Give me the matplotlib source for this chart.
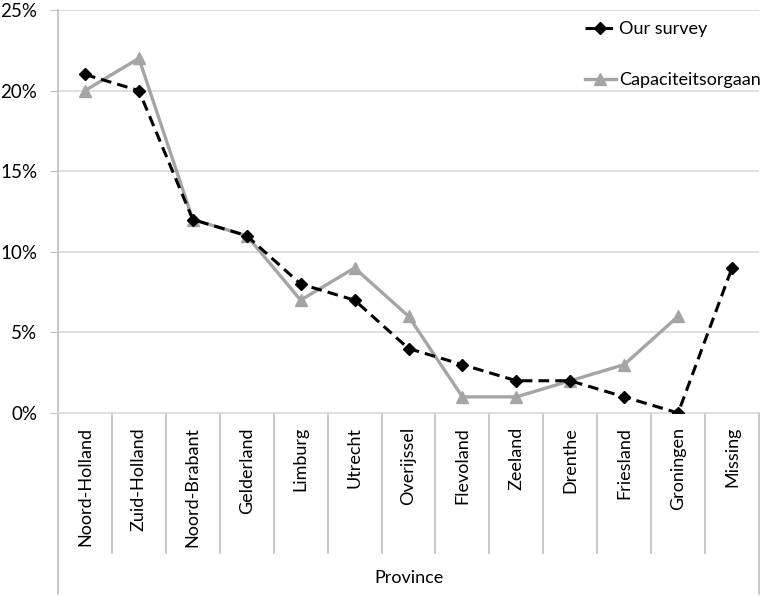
import matplotlib
matplotlib.use("Agg")
import matplotlib.pyplot as plt
from matplotlib.ticker import PercentFormatter

plt.rcParams['font.family'] = ['Lato', 'DejaVu Sans']

# data
provinces = ['Noord-Holland', 'Zuid-Holland', 'Noord-Brabant', 'Gelderland', 'Limburg',
             'Utrecht', 'Overijssel', 'Flevoland', 'Zeeland', 'Drenthe', 'Friesland',
             'Groningen', 'Missing']
our_survey = [21, 20, 12, 11, 8, 7, 4, 3, 2, 2, 1, 0, 9]
capaciteitsorgaan = [20, 22, 12, 11, 7, 9, 6, 1, 1, 2, 3, 6]
y_ticks = [0, 5, 10, 15, 20, 25]

W, H = 772, 596
fig = plt.figure(figsize=(W / 100, H / 100), dpi=100)
left, right, top, bottom = 58, 759, 10, 413
ax = fig.add_axes([left / W, (H - bottom) / H, (right - left) / W, (bottom - top) / H])

grid_col = '#D9D9D9'
axis_col = '#BFBFBF'

x = [i + 0.5 for i in range(len(provinces))]
ax.plot(x, our_survey, color='black', ls='--', lw=2.2, marker='D', ms=6,
        dashes=(3.5, 2), label='Our survey', zorder=4)
ax.plot(x[:len(capaciteitsorgaan)], capaciteitsorgaan, color='#A5A5A5', lw=2.4,
        marker='^', ms=8, label='Capaciteitsorgaan', zorder=3)

ax.set_xlim(0, len(provinces))
ax.set_ylim(0, 25)
ax.set_yticks(y_ticks)
ax.yaxis.set_major_formatter(PercentFormatter(decimals=0))
ax.tick_params(axis='y', length=6, color=axis_col, labelsize=13.5, pad=9)
ax.set_xticks([])
for yv in y_ticks[1:]:
    ax.axhline(yv, color=grid_col, lw=1.2, zorder=1)

for s in ['top', 'right']:
    ax.spines[s].set_visible(False)
ax.spines['left'].set_color(axis_col)
ax.spines['bottom'].set_color(grid_col)
ax.spines['left'].set_linewidth(1.2)
ax.spines['bottom'].set_linewidth(1.2)

# multi-level category axis lines below the plot
tr = ax.get_xaxis_transform()
low = -(553 - bottom) / (bottom - top)
end = -(594 - bottom) / (bottom - top)
for i in range(len(provinces) + 1):
    y_end = end if i in (0, len(provinces)) else low
    ax.plot([i, i], [0, y_end], transform=tr, color=axis_col, lw=1.2, clip_on=False)

for xi, name in zip(x, provinces):
    ax.text(xi, -14 / (bottom - top), name, transform=tr, rotation=90,
            ha='center', va='top', fontsize=13)

ax.text(len(provinces) / 2, -(578 - bottom) / (bottom - top), 'Province',
        transform=tr, ha='center', va='center', fontsize=13)

leg = ax.legend(loc='upper left', bbox_to_anchor=(585 / W, 1 - 21 / H),
                bbox_transform=fig.transFigure, frameon=False, fontsize=13,
                labelspacing=1.95, handlelength=1.7, handletextpad=0.2,
                borderaxespad=0, borderpad=0)

fig.savefig('out.png', dpi=100)
